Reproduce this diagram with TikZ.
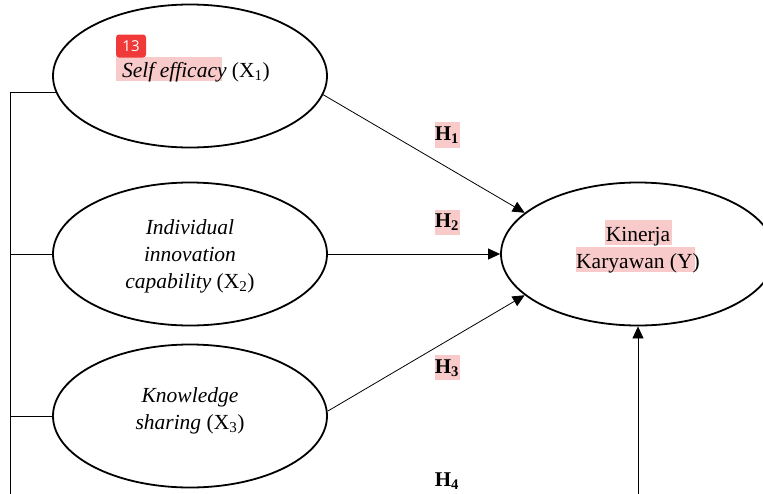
\documentclass[tikz,border=0pt]{standalone}
\usepackage{fontspec}
\setmainfont{Liberation Serif}
\newfontfamily\badgefont{Open Sans}
\usetikzlibrary{arrows.meta,shapes.geometric}
\definecolor{marker}{RGB}{248,202,202}
\definecolor{badgered}{RGB}{240,58,58}
\newcommand{\lbl}[2]{\raisebox{#1}[0pt][0pt]{\begin{tabular}{@{}c@{}}#2\end{tabular}}}
\tikzset{>={Triangle[length=12pt,width=11pt]}}
\tikzset{latent/.style={draw,ellipse,line width=1.8pt,minimum width=274pt,minimum height=143pt,inner sep=0pt,align=center}}
\tikzset{hyp/.style={font=\fontsize{21}{27}\selectfont\bfseries}}

\begin{document}
\begin{tikzpicture}[x=1pt,y=-1pt,font=\fontsize{21.5}{27}\selectfont]
    \useasboundingbox (0,0) rectangle (763,493);
    \clip (0,0) rectangle (763,493);
    % marker highlights
    \fill[marker] (116,57) rectangle (222,81);
    \fill[marker] (435,122) rectangle (460,148);
    \fill[marker] (435,210) rectangle (460,235);
    \fill[marker] (435,355) rectangle (460,380);
    \fill[marker] (605,220) rectangle (672,245);
    \fill[marker] (576,247) rectangle (695,272);
    % constructs
    \node[latent] (x1) at (190,76) {\hspace{12pt}\lbl{-1pt}{\textit{Self efficacy} (X\textsubscript{1})}};
    \node[latent] (x2) at (190,254) {\lbl{-7pt}{\textit{Individual}\\\textit{innovation}\\\textit{capability} (X\textsubscript{2})}};
    \node[latent] (x3) at (190,416) {\lbl{0pt}{\textit{Knowledge}\\\textit{sharing} (X\textsubscript{3})}};
    \node[latent] (y) at (638,254) {\lbl{-1pt}{Kinerja\\Karyawan (Y)}};
    \node[fill=badgered,text=white,rounded corners=3pt,inner sep=0pt,minimum width=30pt,minimum height=23pt,font=\badgefont\fontsize{15}{15}\selectfont] (badge) at (131,46) {13};
    % hypotheses
    \node[hyp] (h1) at (447,135) {H\textsubscript{1}};
    \node[hyp] (h2) at (447,222) {H\textsubscript{2}};
    \node[hyp] (h3) at (447,368) {H\textsubscript{3}};
    \node[hyp] (h4) at (447,481) {H\textsubscript{4}};
    \coordinate (busbot) at (10,500);
    \coordinate (ybase) at (y.south |- 0,500);
    \path[->,line width=0.8pt]
        (x1.-8)   edge (y.160)
        (x2.east) edge (y.west)
        (x3.2)    edge (y.200)
        (ybase)   edge (y.south);
    % moderating bus
    \draw[line width=0.8pt] (x1.187) -| (busbot);
    \draw[line width=0.8pt] (x2.west) -- (x2.west -| busbot);
    \draw[line width=0.8pt] (x3.west) -- (x3.west -| busbot);
\end{tikzpicture}
\end{document}
